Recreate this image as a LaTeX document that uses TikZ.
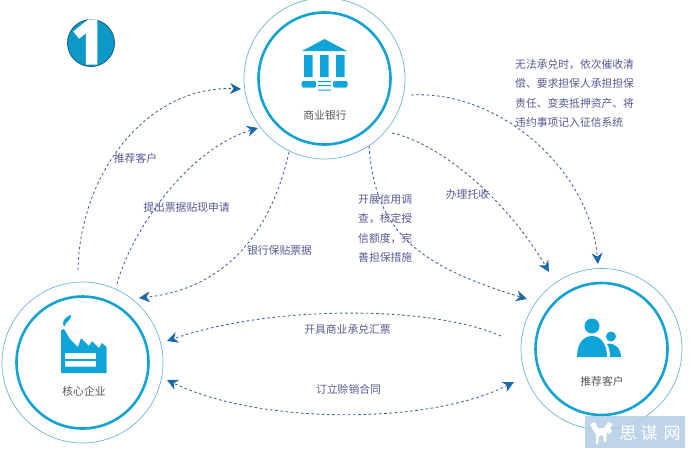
\documentclass[tikz,border=0pt]{standalone}
\usepackage{fontspec}
\setmainfont{Noto Sans CJK SC}
\newfontfamily\digitfont[BoldFeatures={FakeBold=4}]{Open Sans}
\usetikzlibrary{arrows.meta}
\definecolor{ringblue}{HTML}{14A3D1}
\definecolor{thinring}{HTML}{6FB6CE}
\definecolor{iconblue}{HTML}{0FA5D8}
\definecolor{linkblue}{HTML}{3D5F8C}
\definecolor{headblue}{HTML}{1A69A6}
\definecolor{labelblue}{HTML}{55598F}
\definecolor{namegray}{HTML}{555555}
\definecolor{markblue}{HTML}{B3CDE6}
\tikzset{
  headtip/.tip={Stealth[length=11pt,width=11pt,inset=3.5pt,color=headblue]},
  outerring/.style={circle,draw=thinring,line width=0.7pt,minimum size=161pt,inner sep=0pt},
  innerring/.style={circle,draw=ringblue,line width=2.6pt,minimum size=132pt,inner sep=0pt},
  link/.style={draw=linkblue,line width=0.85pt,dash pattern=on 2.6pt off 2.6pt,-headtip},
  linkboth/.style={link,headtip-headtip},
  lab/.style={text=labelblue,font=\fontsize{10.8}{19.3}\selectfont,inner sep=0pt,align=left},
  nametext/.style={text=namegray,font=\fontsize{10.8}{13}\selectfont,inner sep=0pt},
  iconfill/.style={fill=iconblue,draw=none}
}
\begin{document}
\begin{tikzpicture}[x=1pt,y=-1pt]
\useasboundingbox (0,0) rectangle (690,453);
% rings
\node[outerring] (bankO) at (324.5,78.5) {};
\node[innerring] (bankI) at (324.5,78.5) {};
\node[outerring] (coreO) at (82.5,362.5) {};
\node[innerring] (coreI) at (82.5,362.5) {};
\node[outerring] (custO) at (601.5,349) {};
\node[innerring] (custI) at (601.5,349) {};
\node[nametext] (bankT) at (325,115.5) {商业银行};
\node[nametext] (coreT) at (84,391.5) {核心企业};
\node[nametext] (custT) at (602,381) {推荐客户};
% badge
\node[circle,fill=iconblue!92!black,draw=iconblue!55!black,line width=0.8pt,minimum size=47pt,inner sep=0pt] (badge) at (91,43) {};
\node[text=white,inner sep=0pt,font=\digitfont\bfseries\fontsize{60}{60}\selectfont] (badgeT) at (88.5,42) {1};
% bank icon
\fill[iconfill] (324.5,39) -- (347,51) -- (302,51) -- cycle;
\fill[iconfill] (304,55) rectangle (312.5,77) (320,55) rectangle (328.5,77) (336,55) rectangle (344.5,77);
\fill[iconfill,rounded corners=1.5pt] (301.5,81) rectangle (316,87.5) (333,81) rectangle (347.5,87.5);
\fill[iconfill] (318,81) rectangle (331,82) (318,85) rectangle (331,86) (318,89.5) rectangle (331,90.5);
% factory icon
\fill[iconfill,even odd rule] (61,373) -- (61,330) -- (64,329) -- (70,339) -- (78,347) -- (81,338) -- (89,346) -- (92,341) -- (99,348) -- (102,343) -- (106.5,347) -- (106.5,373) -- cycle
  (65,353) rectangle (96,359) (65,361) rectangle (96,366.5);
\fill[iconfill] (63.5,326) .. controls (62,320) and (65,319) .. (67,317) .. controls (68.5,316) and (70,315) .. (71,315) .. controls (71,319) and (69,320) .. (67,322) .. controls (65.5,323) and (65,325) .. (65,326) -- cycle;
% people icon
\fill[iconfill] (592,326) circle (7.5);
\fill[iconfill] (577,357) .. controls (577,343) and (584,336) .. (592,336) .. controls (600,336) and (607,343) .. (607,357) -- cycle;
\fill[iconfill] (611,336.5) circle (5);
\fill[iconfill] (610,357) .. controls (610,351) and (609,347) .. (607,344) .. controls (615,342) and (621,349) .. (621,357) -- cycle;
% connector ends
\coordinate (a1) at (78,270); \coordinate (a2) at (241,89);
\coordinate (b1) at (117,284); \coordinate (b2) at (258,128);
\coordinate (c1) at (289,152); \coordinate (c2) at (139,298);
\coordinate (d1) at (369,146); \coordinate (d2) at (527,299);
\coordinate (e1) at (392,133); \coordinate (e2) at (549,272);
\coordinate (f1) at (411,95); \coordinate (f2) at (598,264);
\coordinate (g1) at (501,336); \coordinate (g2) at (167,341);
\coordinate (h1) at (514,382); \coordinate (h2) at (167,380);
\draw[link] (a1) .. controls (80,170) and (150,85) .. (a2);
\draw[link] (b1) .. controls (130,235) and (185,150) .. (b2);
\draw[link] (c1) .. controls (268,245) and (215,290) .. (c2);
\draw[link] (d1) .. controls (375,230) and (415,265) .. (d2);
\draw[link] (e1) .. controls (445,145) and (510,205) .. (e2);
\draw[link] (f1) .. controls (500,90) and (590,170) .. (f2);
\draw[link] (g1) .. controls (430,305) and (270,305) .. (g2);
\draw[linkboth] (h1) .. controls (430,425) and (260,425) .. (h2);
% labels
\node[lab] (l1) at (135.5,158) {推荐客户};
\node[lab] (l2) at (186.5,207) {提出票据贴现申请};
\node[lab] (l3) at (279.5,250) {银行保贴票据};
\node[lab] (l4) at (467.5,194) {办理托收};
\node[lab,anchor=west] (l5) at (358,228.5) {开展信用调\\查，核定授\\信额度，完\\善担保措施};
\node[lab,anchor=west] (l6) at (515,93.5) {无法承兑时，依次催收清\\偿、要求担保人承担担保\\责任、变卖抵押资产、将\\违约事项记入征信系统};
\node[lab] (l7) at (347.5,329) {开具商业承兑汇票};
\node[lab] (l8) at (348.5,389) {订立赊销合同};
% watermark
\fill[markblue,opacity=0.85] (585,416) rectangle (685,448);
\fill[white] (590,424) -- (595,422) -- (598,428) -- (604,428) -- (608,422) -- (613,424) -- (610,428) -- (612,431) -- (609,434) -- (607,432) -- (606,442) -- (604,442) -- (603,435) -- (599,436) -- (598,444) -- (596,444) -- (596,434) -- (593,430) -- cycle;
\node[inner sep=0pt,text=white,font=\fontsize{17}{17}\selectfont] (wm) at (650,433) {思\hspace{4pt}谋\hspace{6pt}网};
\end{tikzpicture}
\end{document}
